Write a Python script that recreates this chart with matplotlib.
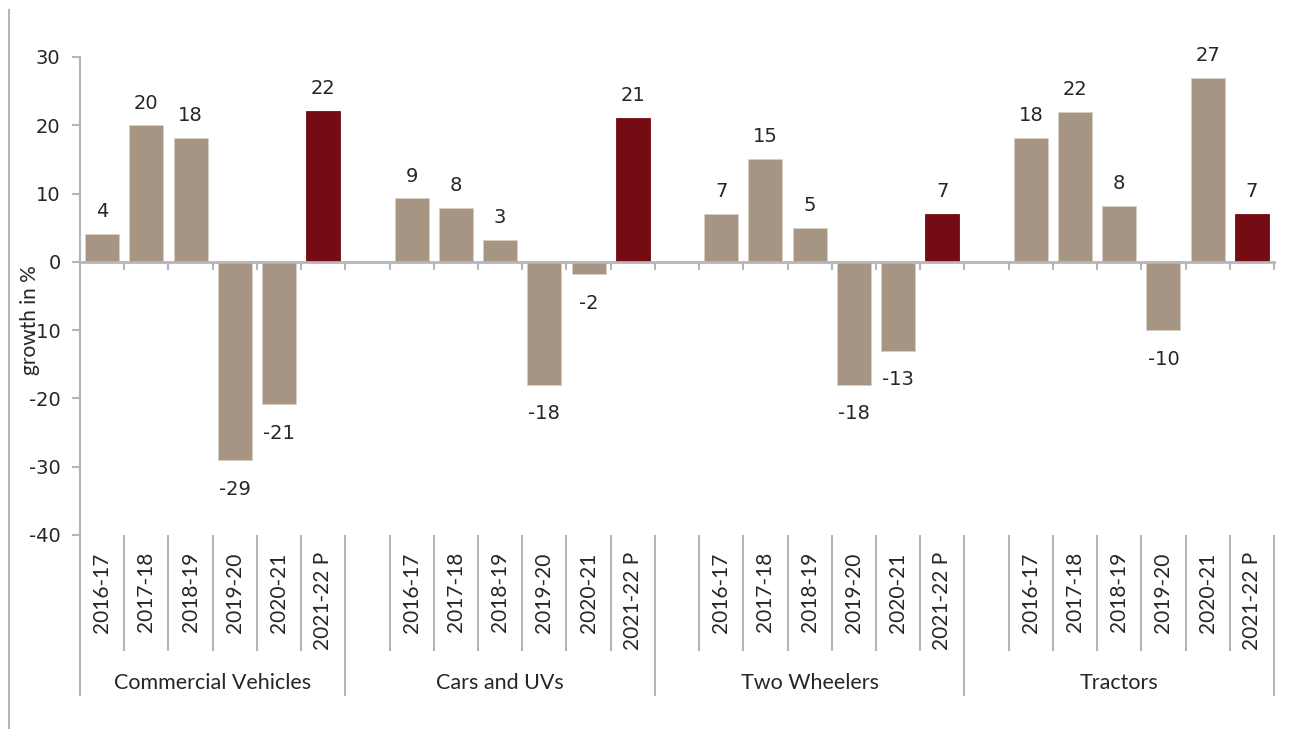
import numpy as np
import matplotlib.pyplot as plt
from matplotlib.lines import Line2D

plt.rcParams['axes.unicode_minus'] = False

groups = ['Commercial Vehicles', 'Cars and UVs', 'Two Wheelers', 'Tractors']
years = ['2016-17', '2017-18', '2018-19', '2019-20', '2020-21', '2021-22 P']
cv = [4.1, 20.0, 18.2, -29.0, -20.8, 22.1]
cars = [9.3, 7.9, 3.2, -18.0, -1.8, 21.1]
two_wheelers = [7.0, 15.1, 5.0, -18.0, -13.0, 7.0]
tractors = [18.2, 22.0, 8.2, -10.0, 26.9, 7.0]
series = [cv, cars, two_wheelers, tractors]

tan = '#A69582'
red = '#750C14'
grey = '#B5B5BA'
txt = '#262626'
cat_font = ['Lato', 'DejaVu Sans']

fig = plt.figure(figsize=(12.93, 7.29), dpi=100)
ax = fig.add_axes([80/1293, 1-535/729, (1274-80)/1293, (535-57)/729])

# 6 bars per group, one empty slot in front of every group after the first
for g, vals in enumerate(series):
    for j, v in enumerate(vals):
        x = g*7 + j
        c = red if j == len(vals)-1 else tan
        ax.bar(x, v, width=0.77, color=c, edgecolor='#D8CFC4' if c == tan else c, linewidth=0.6, zorder=2)
        if v >= 0:
            ax.annotate('%d' % round(v), (x, v), xytext=(0, 16), textcoords='offset points',
                        ha='center', va='center', fontsize=14, color=txt)
        else:
            ax.annotate('%d' % round(v), (x, v), xytext=(0, -21), textcoords='offset points',
                        ha='center', va='center', fontsize=14, color=txt)
        ax.text(x, -0.036, years[j], transform=ax.get_xaxis_transform(), rotation=90,
                ha='center', va='top', fontsize=15, color=txt, family=cat_font)

ax.set_xlim(-0.5, 26.5)
ax.set_ylim(-40, 30)
ax.set_yticks(np.arange(-40, 31, 10))
ax.tick_params(axis='y', direction='out', length=6, width=1.5, color=grey, labelsize=14,
               labelcolor=txt, pad=8)

# zero line as category axis with boundary ticks
ax.spines['bottom'].set_position(('data', 0))
ax.spines['bottom'].set_color(grey)
ax.spines['bottom'].set_linewidth(2)
ax.spines['bottom'].set_zorder(3)
ax.set_xticks(np.arange(-0.5, 27, 1))
ax.set_xticklabels([])
ax.tick_params(axis='x', direction='out', length=6, width=1.5, color=grey)
ax.spines['left'].set_color(grey)
ax.spines['left'].set_linewidth(1.5)
ax.spines['top'].set_visible(False)
ax.spines['right'].set_visible(False)

# separators of the multi-level category axis
tr = ax.get_xaxis_transform()
bounds = [-0.5, 5.5, 12.5, 19.5, 26.5]
for b in np.arange(-0.5, 27, 1):
    bottom = -0.335 if b in bounds else -0.241
    ax.plot([b, b], [-0.003, bottom], transform=tr, color=grey, lw=1.5, clip_on=False)
for g in range(4):
    mid = (bounds[g] + bounds[g+1]) / 2
    ax.text(mid, -0.31, groups[g], transform=tr, ha='center', va='center',
            fontsize=15.5, color=txt, family=cat_font)

fig.text(30/1293, 1-320/729, 'growth in %', rotation=90, ha='center', va='center',
         fontsize=15, color=txt, family=cat_font)
fig.add_artist(Line2D([9/1293, 9/1293], [0, 1-10/729], color=grey, lw=1.5))

plt.savefig('out.png', dpi=100)
